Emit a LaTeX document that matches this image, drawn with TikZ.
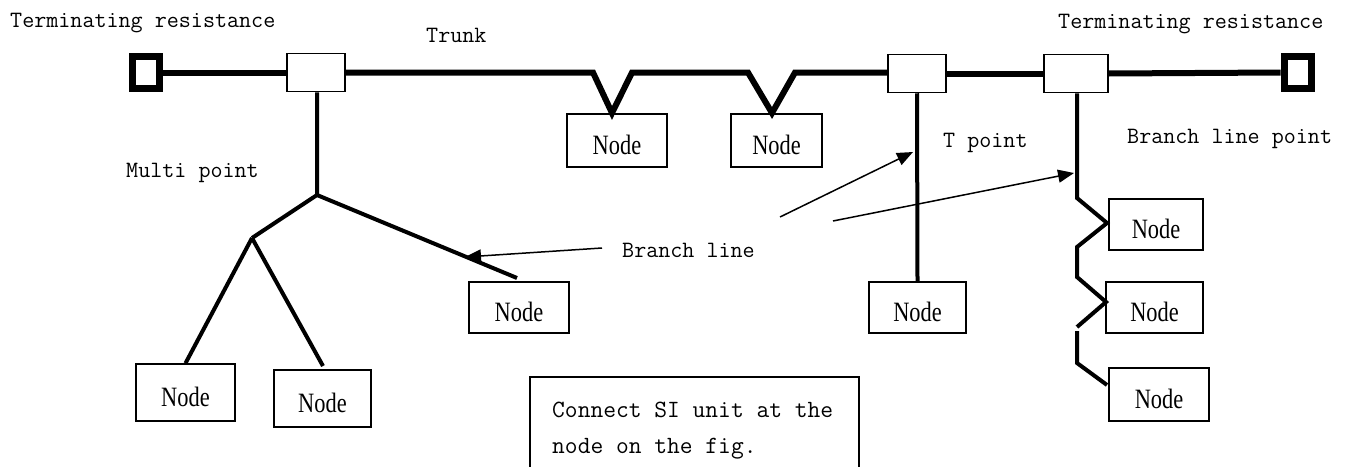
\documentclass[tikz,border=0pt]{standalone}
\usepackage{fontspec}
\newfontfamily\nodefont[FakeStretch=0.8]{Liberation Serif}
\usetikzlibrary{arrows.meta,calc}
\tikzset{
  mono/.style={font=\fontsize{23.4}{28}\selectfont\ttfamily, anchor=base west, inner sep=0pt},
  tap/.style={draw, line width=1.5pt, minimum width=58pt, minimum height=38pt, inner sep=0pt},
  term/.style={draw, line width=7pt, minimum width=27pt, minimum height=32pt, inner sep=0pt},
  nodebox/.style={draw, line width=1.5pt, inner sep=0pt, text height=27.5pt, text depth=0pt,
    font=\nodefont\fontsize{28}{32}\selectfont},
  trunk/.style={line width=6pt},
  branch/.style={line width=4pt},
  pointer/.style={line width=1.5pt, -{Triangle[length=16pt,width=13pt]}}
}
\begin{document}
\begin{tikzpicture}[x=1pt,y=-1pt]
\useasboundingbox (0,0) rectangle (1346,466);

% terminators and taps
\node[term] (term1) at (146,72.5) {};
\node[term] (term2) at (1297.5,72.5) {};
\node[tap] (tap1) at (316,72.5) {};
\node[tap] (tap2) at (917,73.5) {};
\node[tap, minimum width=64pt] (tap3) at (1076,73.5) {};

% node boxes
\node[nodebox, minimum width=100pt, minimum height=53pt] (n1) at (617,140.5) {Node};
\node[nodebox, minimum width=91pt, minimum height=53pt] (n2) at (776.5,140.5) {Node};
\node[nodebox, minimum width=100pt, minimum height=51pt] (n3) at (519,307.5) {Node};
\node[nodebox, minimum width=99pt, minimum height=57pt] (n4) at (185.5,392.5) {Node};
\node[nodebox, minimum width=97pt, minimum height=57pt] (n5) at (322.5,398.5) {Node};
\node[nodebox, minimum width=97pt, minimum height=51pt] (n6) at (917.5,307.5) {Node};
\node[nodebox, minimum width=94pt, minimum height=51pt] (n7) at (1156,224.5) {Node};
\node[nodebox, minimum width=97pt, minimum height=51pt] (n8) at (1154.5,307.5) {Node};
\node[nodebox, minimum width=100pt, minimum height=53pt] (n9) at (1159,394.5) {Node};

% labels
\node[mono] (lt1) at (10,27) {Terminating resistance};
\node[mono] (ltrunk) at (426,42) {Trunk};
\node[mono] (lt2) at (1058,28) {Terminating resistance};
\node[mono] (ltp) at (943,147) {T point};
\node[mono] (lblp) at (1127,143) {Branch line point};
\node[mono] (lmp) at (126,177) {Multi point};
\node[mono] (lbl) at (622,257) {Branch line};

% trunk
\coordinate (v1a) at (593,72.5); \coordinate (v1b) at (612,113); \coordinate (v1c) at (632,72.5);
\coordinate (v2a) at (748,72.5); \coordinate (v2b) at (772,113); \coordinate (v2c) at (795,72.5);
\draw[trunk] (term1.east) -- (tap1.west);
\draw[trunk] (tap1.east) -- (v1a) -- (v1b) -- (v1c) -- (v2a) -- (v2b) -- (v2c) -- (v2c -| tap2.west);
\draw[trunk] (tap2.east) -- (tap3.west);
\draw[trunk] (tap3.east) -- (term2.west);

% multi point
\coordinate (mp) at (317,195); \coordinate (mp2) at (252,238); \coordinate (mp3) at (517,278);
\draw[branch] (tap1.south -| mp) -- (mp) -- (mp2);
\draw[branch] (mp) -- (mp3);
\draw[branch] (mp2) -- (n4.north);
\draw[branch] (mp2) -- (323,366);

% T point
\draw[branch] (tap2.south) -- (n6.north);

% branch line point
\coordinate (b1) at (1077,198); \coordinate (b2) at (1107,223);
\coordinate (b3) at (1077,247); \coordinate (b4) at (1077,277);
\coordinate (b5) at (1106,302); \coordinate (b6) at (1077,327);
\coordinate (b7) at (1077,331); \coordinate (b8) at (1077,363);
\coordinate (b9) at (1107,385);
\draw[branch] (tap3.south -| b1) -- (b1) -- (b2) -- (b3) -- (b4) -- (b5) -- (b6);
\draw[branch] (b7) -- (b8) -- (b9);

% pointers
\coordinate (p1s) at (602,248); \coordinate (p1e) at (465,257);
\coordinate (p2s) at (780,217); \coordinate (p2e) at (913,152);
\coordinate (p3s) at (833,221); \coordinate (p3e) at (1074,173);
\draw[pointer] (p1s) -- (p1e);
\draw[pointer] (p2s) -- (p2e);
\draw[pointer] (p3s) -- (p3e);

% note box (cut at the bottom)
\draw[line width=1.5pt] (530,470) -- (530,377) -- (859,377) -- (859,470);
\node[font=\fontsize{24.8}{36}\selectfont\ttfamily, anchor=base west, inner sep=0pt] (note) at (552,417) {Connect SI unit at the};
\node[font=\fontsize{24.8}{36}\selectfont\ttfamily, anchor=base west, inner sep=0pt] (note2) at (552,453) {node on the fig.};
\end{tikzpicture}
\end{document}
